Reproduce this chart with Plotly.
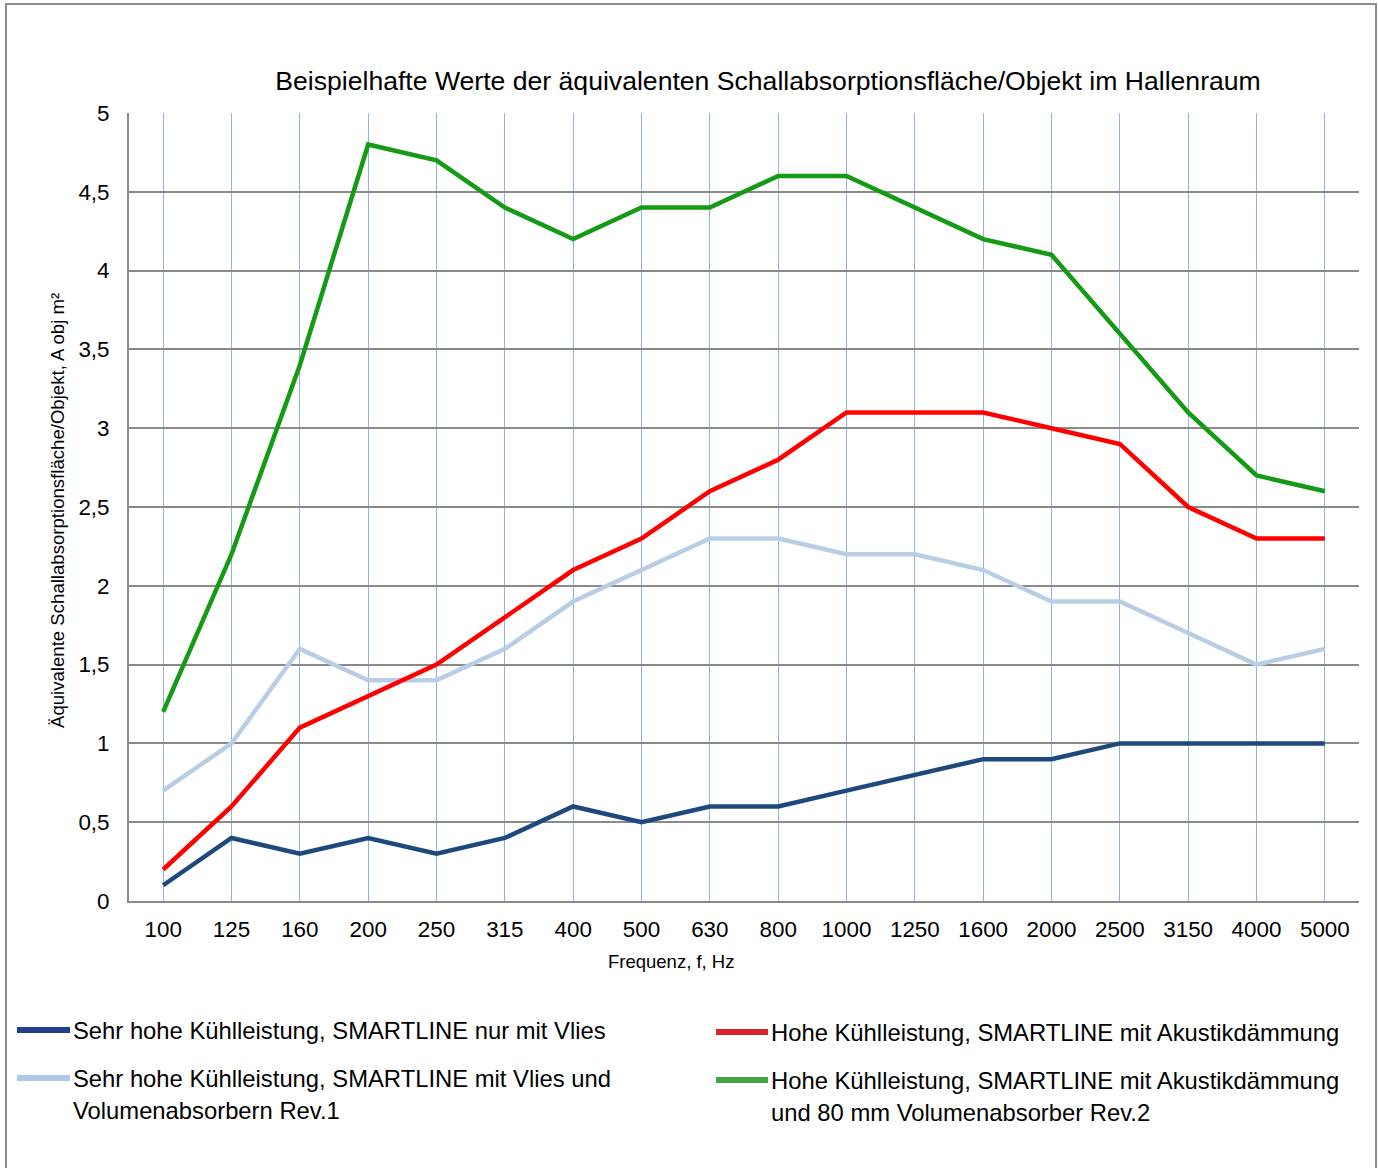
import plotly.graph_objects as go

# ---- data ----
freqs = ["100", "125", "160", "200", "250", "315", "400", "500", "630", "800",
         "1000", "1250", "1600", "2000", "2500", "3150", "4000", "5000"]
s_vlies = [0.1, 0.4, 0.3, 0.4, 0.3, 0.4, 0.6, 0.5, 0.6, 0.6,
           0.7, 0.8, 0.9, 0.9, 1.0, 1.0, 1.0, 1.0]
s_vlies_vol = [0.7, 1.0, 1.6, 1.4, 1.4, 1.6, 1.9, 2.1, 2.3, 2.3,
               2.2, 2.2, 2.1, 1.9, 1.9, 1.7, 1.5, 1.6]
s_akustik = [0.2, 0.6, 1.1, 1.3, 1.5, 1.8, 2.1, 2.3, 2.6, 2.8,
             3.1, 3.1, 3.1, 3.0, 2.9, 2.5, 2.3, 2.3]
s_akustik_vol = [1.2, 2.2, 3.4, 4.8, 4.7, 4.4, 4.2, 4.4, 4.4, 4.6,
                 4.6, 4.4, 4.2, 4.1, 3.6, 3.1, 2.7, 2.6]

names = [
    "Sehr hohe Kühlleistung, SMARTLINE nur mit Vlies",
    "Sehr hohe Kühlleistung, SMARTLINE mit Vlies und<br>Volumenabsorbern Rev.1",
    "Hohe Kühlleistung, SMARTLINE mit Akustikdämmung",
    "Hohe Kühlleistung, SMARTLINE mit Akustikdämmung<br>und 80 mm Volumenabsorber Rev.2",
]
line_colors = ["#1F497D", "#B9CDE5", "#FF0000", "#149A14"]
swatch_colors = ["#22408A", "#AFC7E8", "#D8232A", "#45A845"]
series = [s_vlies, s_vlies_vol, s_akustik, s_akustik_vol]

title_text = "Beispielhafte Werte der äquivalenten Schallabsorptionsfläche/Objekt im Hallenraum"
xtitle = "Frequenz, f, Hz"
ytitle = "Äquivalente Schallabsorptionsfläche/Objekt, A obj m²"

FONT = "Arial, Liberation Sans, sans-serif"
W, H = 1378, 1168
L, R, T, B = 129, 1359, 113, 901  # plot area in pixels

def px(xp):
    return (xp - L) / (R - L)

def py(yp):
    return (B - yp) / (B - T)

fig = go.Figure()
for vals, nm, col in zip(series, names, line_colors):
    fig.add_trace(go.Scatter(x=freqs, y=vals, mode="lines", name=nm,
                             line=dict(color=col, width=4.5),
                             showlegend=False))

shapes = []
annotations = []

# outer border
shapes.append(dict(type="rect", xref="paper", yref="paper",
                   x0=px(6), x1=px(1376), y0=py(1170), y1=py(4),
                   line=dict(color="#8C8C8C", width=2), fillcolor="rgba(0,0,0,0)",
                   layer="below"))

# custom legend
leg = [
    (17, 70, 1030, 71, [names[0]]),
    (17, 70, 1078, 71, names[1].split("<br>")),
    (716, 768, 1032, 769, [names[2]]),
    (716, 768, 1080, 769, names[3].split("<br>")),
]
for i, (sx0, sx1, sy, tx, lines) in enumerate(leg):
    shapes.append(dict(type="line", xref="paper", yref="paper",
                       x0=px(sx0), x1=px(sx1), y0=py(sy), y1=py(sy),
                       line=dict(color=swatch_colors[i], width=6)))
    for j, t in enumerate(lines):
        annotations.append(dict(text=t, xref="paper", yref="paper",
                                x=px(tx), y=py(sy + j * 32), xanchor="left",
                                yanchor="middle", showarrow=False,
                                font=dict(family=FONT, size=23.8, color="#000000")))

# axis titles
annotations.append(dict(text=xtitle, xref="paper", yref="paper",
                        x=px(671), y=py(961), xanchor="center", yanchor="middle",
                        showarrow=False, font=dict(family=FONT, size=18.5, color="#000")))
annotations.append(dict(text=ytitle, xref="paper", yref="paper",
                        x=px(57), y=py(511), xanchor="center", yanchor="middle",
                        textangle=-90, showarrow=False,
                        font=dict(family=FONT, size=18.6, color="#000")))

fig.update_layout(
    width=W, height=H,
    margin=dict(l=L, r=W - R, t=T, b=H - B, pad=0),
    paper_bgcolor="white", plot_bgcolor="white",
    separators=",.",
    title=dict(text=title_text, x=(768) / W, xanchor="center",
               y=1 - 81 / H, yanchor="middle", yref="container", xref="container",
               font=dict(family=FONT, size=26.6, color="#000")),
    shapes=shapes, annotations=annotations,
    font=dict(family=FONT, color="#000"),
)
fig.update_xaxes(type="category", range=[-0.5, 17.5], showgrid=True,
                 gridcolor="#8EB4E3", gridwidth=1.2, showline=True,
                 linecolor="#8A8A8A", linewidth=2, ticks="",
                 tickfont=dict(family=FONT, size=22.4, color="#000"),
                 ticklabelstandoff=7, zeroline=False)
fig.update_yaxes(range=[0, 5], dtick=0.5, showgrid=True, gridcolor="#8A8A8A",
                 gridwidth=2, showline=True, linecolor="#8A8A8A", linewidth=2,
                 ticks="", zeroline=False,
                 tickfont=dict(family=FONT, size=22.4, color="#000"),
                 ticklabelstandoff=13)

fig.write_html("out.html", config={"displayModeBar": False},
               post_script="document.body.style.margin='0';document.body.style.padding='0';")
